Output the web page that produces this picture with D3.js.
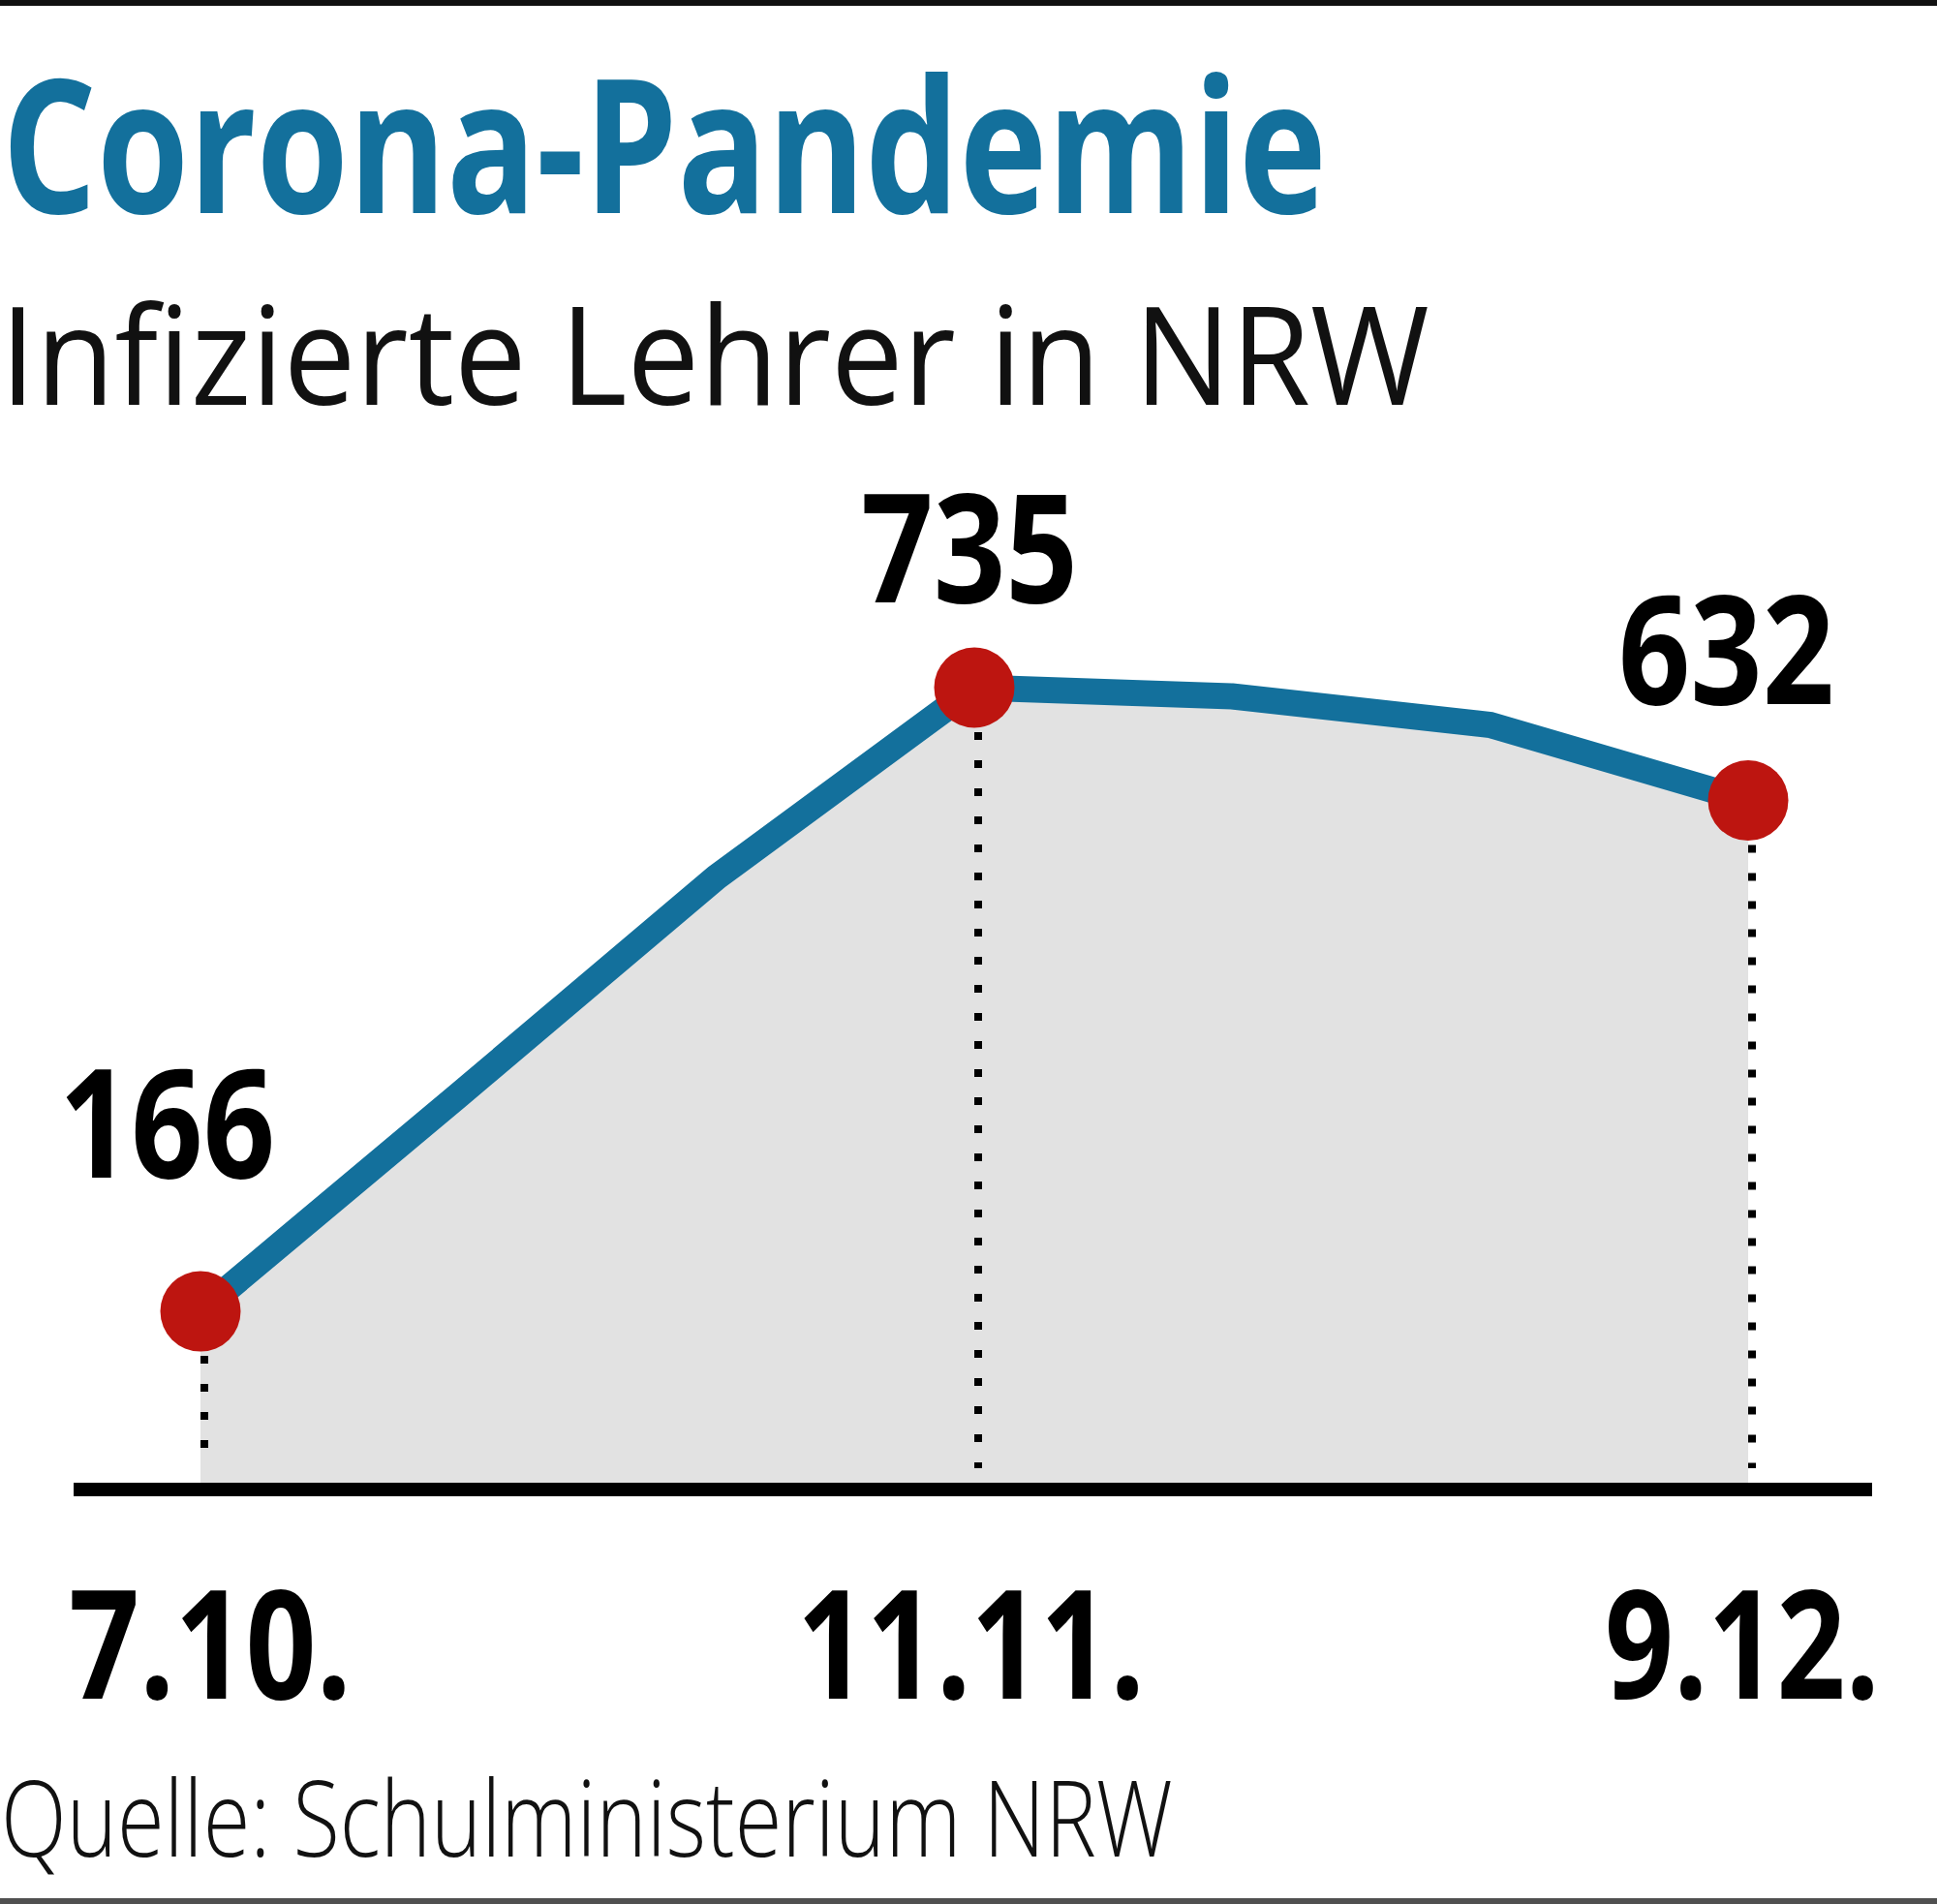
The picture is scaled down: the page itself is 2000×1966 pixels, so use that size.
<!DOCTYPE html>
<html>
<head>
<meta charset="utf-8">
<script src="https://cdn.jsdelivr.net/npm/d3@7"></script>
<style>
html,body{margin:0;padding:0;background:#fff;}
svg{display:block;}
</style>
</head>
<body>
<script>
// ---- data ----
const pointIndex = [0, 1, 2, 3, 4, 5, 6];
const values = [166, 363, 562, 735, 727, 701, 632];
const labeledIdx = [0, 3, 6];
const tickLabels = ["7.10.", "11.11.", "9.12."];
const titleText = "Corona-Pandemie";
const subtitleText = "Infizierte Lehrer in NRW";
const sourceText = "Quelle: Schulministerium NRW";

// ---- layout / style ----
const W = 2000, H = 1966;
const blue = "#13709c", red = "#bd1510", gray = "#e2e2e2";
const font = "'Open Sans', 'Noto Sans', sans-serif";
// value label nudges relative to point: [dx of left edge, dy of baseline, width]
const valueLabelLayout = [[-146, -138, 223], [-117, -88, 224], [-134, -100, 223]];
// tick label: [dx of left edge, width]
const tickLayout = [[-136, 292], [-183, 359], [-148, 284]];

const svg = d3.select("body").append("svg")
  .attr("width", W).attr("height", H)
  .attr("viewBox", `0 0 ${W} ${H}`);

svg.append("rect").attr("width", W).attr("height", H).attr("fill", "#fff");

const x = d3.scalePoint().domain(pointIndex).range([207, 1805]);
const y = d3.scaleLinear().domain([0, 735]).range([1542, 710]);

// fit a text to a given left edge, baseline and width by horizontal scaling
function fitText(sel, left, baseline, width) {
  sel.each(function(d, k) {
    const t = d3.select(this).attr("x", 0).attr("y", 0);
    const l = typeof left === "function" ? left(d, k) : left;
    const b = typeof baseline === "function" ? baseline(d, k) : baseline;
    const w = typeof width === "function" ? width(d, k) : width;
    const nat = this.getComputedTextLength();
    t.attr("transform", `translate(${l},${b}) scale(${w / nat},1)`);
  });
}

// borders
svg.append("rect").attr("x", 0).attr("y", 0).attr("width", W).attr("height", 6).attr("fill", "#111");
svg.append("rect").attr("x", 0).attr("y", 1960).attr("width", W).attr("height", 6).attr("fill", "#505050");

// title & subtitle
fitText(svg.append("text")
  .attr("font-family", font).attr("font-weight", 700).attr("font-size", 193)
  .attr("fill", blue).text(titleText), 2, 220, 1368);
fitText(svg.append("text")
  .attr("font-family", font).attr("font-weight", 400).attr("font-size", 141)
  .attr("fill", "#111").text(subtitleText), 0, 418, 1476);

// area
const axisTop = y(0) - 11;
const area = d3.area().x(i => x(i)).y0(axisTop).y1(i => y(values[i]));
svg.append("path").datum(pointIndex).attr("d", area).attr("fill", gray);

// dotted drop lines
svg.selectAll("line.drop").data(labeledIdx).join("line")
  .attr("class", "drop")
  .attr("x1", i => x(i) + 4).attr("x2", i => x(i) + 4)
  .attr("y1", i => y(values[i]) + 46).attr("y2", 1516)
  .attr("stroke", "#000").attr("stroke-width", 8).attr("stroke-dasharray", "8,21");

// axis baseline
svg.append("line").attr("x1", 76).attr("x2", 1933)
  .attr("y1", y(0) - 4).attr("y2", y(0) - 4)
  .attr("stroke", "#000").attr("stroke-width", 14);

// line
const line = d3.line().x(i => x(i)).y(i => y(values[i]));
svg.append("path").datum(pointIndex).attr("d", line)
  .attr("fill", "none").attr("stroke", blue).attr("stroke-width", 27)
  .attr("stroke-linejoin", "miter");

// dots
svg.selectAll("circle.dot").data(labeledIdx).join("circle")
  .attr("class", "dot")
  .attr("cx", i => x(i)).attr("cy", i => y(values[i])).attr("r", 41.5)
  .attr("fill", red);

// value labels
fitText(svg.selectAll("text.val").data(labeledIdx).join("text")
  .attr("class", "val")
  .attr("font-family", font).attr("font-weight", 700).attr("font-size", 156)
  .attr("fill", "#000")
  .text(i => values[i]),
  (i, k) => x(i) + valueLabelLayout[k][0],
  (i, k) => y(values[i]) + valueLabelLayout[k][1],
  (i, k) => valueLabelLayout[k][2]);

// tick labels
fitText(svg.selectAll("text.tick").data(labeledIdx).join("text")
  .attr("class", "tick")
  .attr("font-family", font).attr("font-weight", 700).attr("font-size", 156)
  .attr("fill", "#000")
  .text((i, k) => tickLabels[k]),
  (i, k) => x(i) + tickLayout[k][0],
  1754,
  (i, k) => tickLayout[k][1]);

// source
fitText(svg.append("text")
  .attr("font-family", font).attr("font-weight", 300).attr("font-size", 109)
  .attr("fill", "#111").text(sourceText), 1, 1917, 1210);
</script>
</body>
</html>
